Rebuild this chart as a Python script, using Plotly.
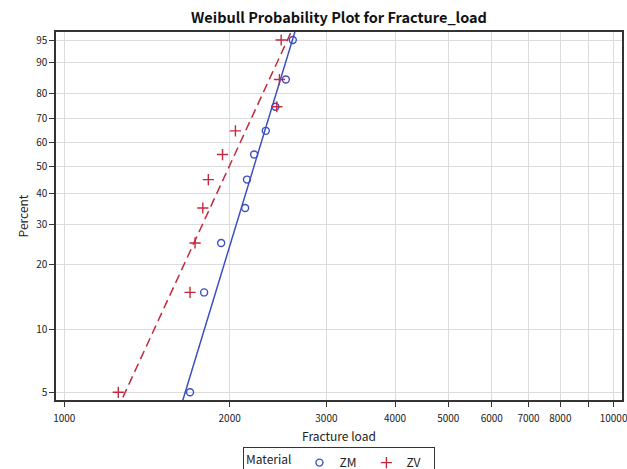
import numpy as np
import plotly.graph_objects as go

# Data
percent = [5, 15, 25, 35, 45, 55, 65, 75, 85, 95]
zm_load = [1694, 1797, 1930, 2134, 2151, 2216, 2327, 2423, 2531, 2606]
zv_load = [1254, 1694, 1730, 1787, 1829, 1941, 2049, 2437, 2464, 2482]

# Weibull fit estimates (shape, scale)
zm_shape, zm_scale = 9.05, 2305
zv_shape, zv_scale = 5.98, 2121

y_ticks = [5, 10, 20, 30, 40, 50, 60, 70, 80, 90, 95]
x_tickvals = [1000, 2000, 3000, 4000, 5000, 6000, 7000, 8000, 9000, 10000]
x_ticktext = ["1000", "2000", "3000", "4000", "5000", "6000", "7000", "8000", "", "10000"]


def wtrans(p):
    p = np.asarray(p, dtype=float) / 100.0
    return np.log(-np.log(1 - p))


BLUE = "#3d4fc0"
RED = "#c42a3c"

y_lo, y_hi = -3.0591, 1.1896
line_x = np.logspace(3.0, 3.6, 200)


def fit_w(x, shape, scale):
    return shape * np.log(x / scale)


fig = go.Figure()
zm_w = fit_w(line_x, zm_shape, zm_scale)
zv_w = fit_w(line_x, zv_shape, zv_scale)
fig.add_trace(go.Scatter(x=line_x, y=zm_w, mode="lines", line=dict(color=BLUE, width=1.5),
                         showlegend=False, hoverinfo="skip"))
fig.add_trace(go.Scatter(x=line_x, y=zv_w, mode="lines", line=dict(color=RED, width=1.5, dash="9px,5px"),
                         showlegend=False, hoverinfo="skip"))
fig.add_trace(go.Scatter(x=zm_load, y=wtrans(percent), mode="markers", name="ZM",
                         marker=dict(symbol="circle-open", size=7, color=BLUE, line=dict(width=1.4, color=BLUE))))
fig.add_trace(go.Scatter(x=zv_load, y=wtrans(percent), mode="markers", name="ZV",
                         marker=dict(symbol="cross-thin-open", size=8, color=RED, line=dict(width=1.4, color=RED))))

FONT = "Noto Sans CJK JP"
W, H = 627, 469
fig.update_layout(
    width=W, height=H,
    margin=dict(l=56, r=5, t=32, b=69, autoexpand=False),
    paper_bgcolor="white", plot_bgcolor="white",
    font=dict(family=FONT, size=11, color="#222"),
    title=dict(text="<b>Weibull Probability Plot for Fracture_load</b>", x=0.5, xanchor="center", xref="paper",
               y=1 - 18 / H, yref="container", yanchor="middle", font=dict(size=14.5, family=FONT, color="#111")),
    legend=dict(orientation="h", x=0.5, xanchor="center", y=-0.128, yanchor="top",
                title=dict(text="Material", font=dict(size=12), side="left"),
                bordercolor="#333", borderwidth=1, font=dict(size=12), valign="middle",
                itemwidth=30, entrywidth=22, entrywidthmode="pixels", tracegroupgap=0),
    xaxis=dict(type="log", range=[2.9849, 4.0153], tickvals=x_tickvals, ticktext=x_ticktext,
               automargin=False, ticklabeloverflow="allow", ticklabelstandoff=3,
               showgrid=True, gridcolor="#dcdcdc", gridwidth=1,
               showline=True, linecolor="#333", linewidth=1.5, mirror=True,
               ticks="outside", ticklen=5, tickcolor="#333", zeroline=False,
               tickfont=dict(size=10),
               title=dict(text="Fracture load", font=dict(size=12), standoff=9)),
    yaxis=dict(range=[y_lo, y_hi], tickvals=list(wtrans(y_ticks)), ticktext=[str(v) for v in y_ticks],
               automargin=False,
               showgrid=True, gridcolor="#dcdcdc", gridwidth=1,
               showline=True, linecolor="#333", linewidth=1.5, mirror=True,
               ticks="outside", ticklen=5, tickcolor="#333", zeroline=False,
               tickfont=dict(size=10),
               title=dict(text="Percent", font=dict(size=12), standoff=5)),
)

fig.write_html("out.html", config={"displayModeBar": False},
               post_script="document.body.style.margin='0';document.body.style.overflow='hidden';")
